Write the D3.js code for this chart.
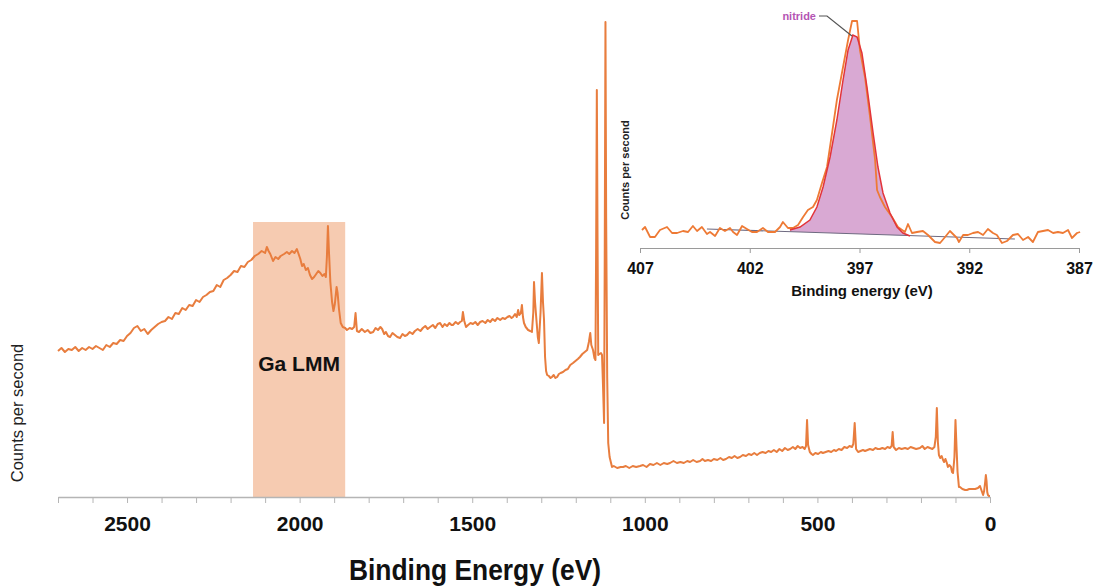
<!DOCTYPE html>
<html>
<head>
<meta charset="utf-8">
<title>XPS survey</title>
<script src="https://d3js.org/d3.v7.min.js"></script>
<style>
  body { margin: 0; background: #fff; }
  text { font-family: "Liberation Sans", Arial, sans-serif; }
</style>
</head>
<body>
<svg width="1095" height="586"></svg>
<script>
// survey spectrum, binding energy (eV) and counts (kcps, arbitrary)
var surveyBE = [
  2700,2690,2680,2670,2660,2650,2640,2630,2620,2610,2600,2590,2580,2570,2560,2550,2540,2530,2520,2510,
  2500,2490,2480,2470,2460,2450,2440,2430,2420,2410,2400,2390,2380,2370,2360,2350,2340,2330,2320,2310,
  2300,2290,2280,2270,2260,2250,2240,2230,2220,2210,2200,2190,2180,2170,2160,2150,2140,
  2130,2120,2110,2100,2095,2090,2085,2077,2070,2062,2055,2045,2037,2030,2022,2015,2008,2003,1998,1993,
  1988,1982,1976,1970,1964,1958,1952,1946,1940,1934,1928,1924,1921,1918,1915,1911,1906,1902,1898,1893,
  1890,1886,1881,1875,1868,
  1863,1855,1848,1842,1838,1834,1828,1820,1811,1803,1795,1787,1780,1773,1766,1761,1755,1750,1744,1738,
  1731,1724,1717,1709,1702,1695,1689,1681,1673,1666,1658,1650,1643,1636,1629,1622,1614,1607,1600,1593,
  1586,1580,1573,1566,1560,1556,1548,1541,1535,1530,1527,1523,1518,1512,1505,1498,1491,1484,1477,1470,
  1462,1455,1448,1441,1434,1427,1419,1412,1405,1398,1392,1386,1382,1376,1371,1367,1364,1359,1356,1353,
  1350,1345,1338,1332,1327,1323,1321,1318,1314,1310,1307,1302,1298,1295,1292,1289,1286,1283,1278,1273,
  1269,1264,1259,1254,1249,1244,1237,1230,1223,1216,1208,1201,1194,1188,1181,1174,1167,1162,1158,1155,
  1150,1146,1143,1141,1139,1137,1135,1131,1127,1124,1121,1118,1116,1114,1112,1109,1106,1102,1095,
  1090,1080,1070,1063,1055,1045,1035,1025,1014,1005,995,985,975,965,955,945,935,927,917,907,
  897,887,877,869,860,850,840,833,826,817,808,800,790,781,773,765,756,748,740,732,
  724,716,707,699,691,683,675,667,659,650,642,634,626,618,610,602,594,586,579,571,
  564,557,550,543,537,533,530,527,522,517,513,506,498,490,484,476,468,460,452,446,
  438,430,422,414,407,400,396,392,388,382,375,368,362,355,348,339,332,325,319,312,
  304,297,290,285,282,279,272,264,256,246,238,230,222,214,203,196,189,181,174,167,
  161,157,154,151,148,144,140,136,133,129,125,122,118,113,110,107,103,100,97,94,
  90,87,80,72,67,60,52,43,35,29,24,20,17,14,12,10,8,6,3,0
];
var surveyCps = [
  14.6,14.9,14.5,14.8,14.7,15.0,14.6,14.9,14.7,15.0,14.8,15.1,14.9,14.7,15.2,15.0,15.4,15.3,15.7,15.6,
  16.1,16.4,16.9,17.1,16.6,16.8,16.3,16.7,17.0,17.3,17.5,17.6,18.0,17.8,18.4,18.3,18.9,18.7,19.2,19.1,
  19.7,19.5,20.0,20.2,20.5,20.6,21.2,21.0,21.7,21.9,22.2,22.6,22.5,23.1,23.0,23.5,23.7,
  24.1,24.3,24.6,24.4,25.0,24.6,24.3,23.6,24.0,23.8,24.1,24.3,24.5,24.3,24.6,24.4,24.8,24.3,23.8,23.1,
  23.3,22.7,22.9,22.2,21.8,22.0,22.3,22.6,22.4,22.1,22.3,22.0,24.0,27.1,24.5,21.5,19.5,18.6,19.3,21.0,
  20.4,18.8,17.4,17.0,16.9,
  16.7,16.9,16.8,17.0,18.4,16.6,16.5,16.8,16.5,16.7,16.4,16.5,16.9,16.7,17.0,16.8,16.3,16.5,16.1,16.0,
  16.4,16.2,16.0,15.9,16.3,16.1,16.2,16.5,16.3,16.6,16.8,16.6,16.9,17.1,16.8,17.0,17.2,16.9,17.3,17.4,
  17.0,17.3,17.1,17.4,17.2,17.2,17.5,17.3,17.5,17.6,18.5,17.6,17.0,17.2,17.4,17.3,17.5,17.2,17.5,17.6,
  17.4,17.7,17.5,17.8,17.6,17.9,17.7,17.9,17.8,18.0,18.1,17.9,18.0,18.3,18.0,18.7,18.2,18.4,19.2,18.0,
  17.4,17.0,16.7,16.6,16.5,18.5,21.5,19.5,17.7,16.0,15.4,18.5,22.4,19.5,17.7,14.0,12.6,12.2,12.1,11.9,
  12.0,12.2,11.9,12.0,12.3,12.4,12.5,12.7,12.8,13.2,13.4,13.6,13.8,14.0,14.3,14.5,14.7,15.5,16.4,15.2,
  14.7,13.9,13.7,25.0,40.7,26.0,14.2,14.3,14.4,14.2,11.0,7.4,25.0,47.5,28.0,12.0,5.4,4.0,3.0,
  3.1,2.9,3.0,3.0,3.1,2.9,3.1,3.0,3.1,3.2,3.0,3.3,3.2,3.4,3.2,3.4,3.3,3.4,3.6,3.4,
  3.5,3.4,3.6,3.5,3.7,3.5,3.6,3.8,3.6,3.7,3.6,3.8,3.7,3.9,3.7,3.8,4.0,3.9,4.1,3.9,
  4.0,4.2,4.1,4.3,4.2,4.4,4.2,4.4,4.5,4.4,4.6,4.5,4.7,4.5,4.8,4.6,4.9,4.7,4.8,5.0,
  4.8,5.1,4.9,5.0,4.8,5.1,7.7,5.2,4.5,4.3,4.2,4.4,4.3,4.5,4.4,4.5,4.6,4.5,4.7,4.6,
  4.8,4.7,5.0,4.9,5.1,5.0,5.3,7.4,4.8,4.5,4.6,4.7,4.6,4.7,4.8,4.7,4.9,4.8,4.8,4.9,
  4.8,5.0,4.9,5.1,6.5,5.0,4.7,4.9,4.8,4.9,4.8,5.0,4.9,4.8,4.9,5.1,4.8,5.0,4.9,4.8,
  5.0,6.0,8.9,5.5,4.2,3.9,4.1,3.7,3.5,3.8,3.4,3.0,3.2,3.0,2.5,2.4,4.0,7.7,5.0,2.5,
  1.0,1.0,0.8,0.7,0.7,0.8,0.8,0.8,0.9,1.1,0.6,0.2,0.6,1.5,2.2,1.6,0.5,0.2,0.1,0.1
];
var surveyTickLabels = [2500, 2000, 1500, 1000, 500, 0];
var gaLmmRange = [2135, 1868];
var gaLmmTop = 27.5;

// N 1s high resolution inset
var insetBE = [
  406.91,406.77,406.54,406.32,406.09,405.77,405.54,405.31,405.04,404.81,404.59,404.40,404.18,403.95,403.81,403.58,403.36,403.13,402.90,402.76,
  402.58,402.35,402.13,401.90,401.67,401.40,401.17,400.85,400.62,400.49,400.26,400.03,399.80,399.57,399.35,399.12,398.94,398.71,398.48,398.25,
  398.03,397.75,397.52,397.34,397.11,396.98,396.75,396.52,396.29,396.20,396.07,395.84,395.52,395.25,394.93,394.79,394.61,394.38,394.11,393.88,
  393.56,393.33,393.10,392.88,392.56,392.47,392.28,392.06,391.83,391.60,391.37,391.15,390.92,390.74,390.51,390.28,390.01,389.78,389.55,389.32,
  389.10,388.87,388.64,388.41,388.18,387.96,387.73,387.50,387.32,387.09,386.95
];
var insetCps = [
  170,200,100,100,170,200,140,140,160,150,210,160,200,130,150,110,190,160,190,150,
  120,210,180,150,150,190,150,150,200,250,190,190,220,300,370,400,470,640,800,1140,
  1470,1800,2070,2260,2260,1970,1700,1300,870,570,500,400,300,200,150,230,140,150,160,120,
  50,40,100,160,90,50,120,120,140,150,120,180,140,120,40,60,120,130,70,100,
  50,150,160,170,140,150,140,170,90,140,150
];
var fitBE = [400.17,399.71,399.26,398.94,398.66,398.34,398.03,397.75,397.52,397.30,397.11,396.89,396.66,396.38,396.16,395.93,395.61,395.29,395.02,394.70];
var fitCps = [170,200,270,400,600,900,1270,1670,1970,2120,2100,1940,1600,1140,800,540,340,200,140,110];
var bgBE = [403.95, 389.92];
var bgCps = [180, 80];
var insetTicks = [407, 402, 397, 392, 387];

var svg = d3.select("svg");
svg.append("rect").attr("width", 1095).attr("height", 586).attr("fill", "#fff");

// ---- main survey ----
var x = d3.scaleLinear().domain([2700, 0]).range([58, 990]);
var y = d3.scaleLinear().domain([0, 47.7]).range([497, 20]);

svg.append("rect")
    .attr("x", x(gaLmmRange[0]))
    .attr("y", y(gaLmmTop))
    .attr("width", x(gaLmmRange[1]) - x(gaLmmRange[0]))
    .attr("height", y(0) - y(gaLmmTop))
    .attr("fill", "#f6cbb1");

svg.append("text")
    .attr("x", (x(gaLmmRange[0]) + x(gaLmmRange[1])) / 2)
    .attr("y", 371)
    .attr("text-anchor", "middle")
    .style("font-size", "21px").style("font-weight", "bold")
    .attr("fill", "#111")
    .text("Ga LMM");

var xAxis = d3.axisBottom(x)
    .tickValues(d3.range(0, 2701, 100))
    .tickSize(6).tickSizeOuter(0)
    .tickFormat(function(d) { return surveyTickLabels.indexOf(d) >= 0 ? d : ""; });

var gx = svg.append("g").attr("transform", "translate(0," + y(0) + ")").call(xAxis);
gx.select(".domain").attr("stroke", "#b5b5b5").attr("stroke-width", 1.3);
gx.selectAll(".tick line").attr("stroke", "#b5b5b5");
gx.selectAll(".tick text")
    .attr("dy", "1.2em")
    .style("font-family", "'Liberation Sans', Arial, sans-serif")
    .style("font-size", "21px").style("font-weight", "bold")
    .attr("fill", "#111");

var surveyData = surveyBE.map(function(d, i) { return [d, surveyCps[i]]; });
var line = d3.line().x(function(d) { return x(d[0]); }).y(function(d) { return y(d[1]); });

svg.append("path")
    .datum(surveyData)
    .attr("d", line)
    .attr("fill", "none")
    .attr("stroke", "#e87d3e")
    .attr("stroke-width", 2)
    .attr("stroke-linejoin", "round");

svg.append("text")
    .attr("x", 475).attr("y", 580)
    .attr("text-anchor", "middle")
    .attr("textLength", 252)
    .attr("lengthAdjust", "spacingAndGlyphs")
    .style("font-size", "30px").style("font-weight", "bold")
    .attr("fill", "#111")
    .text("Binding Energy (eV)");

svg.append("text")
    .attr("transform", "translate(23,413) rotate(-90)")
    .attr("text-anchor", "middle")
    .style("font-size", "16.5px")
    .attr("fill", "#222")
    .text("Counts per second");

// ---- inset ----
var ix = d3.scaleLinear().domain([407, 387]).range([640, 1079]);
var iy = d3.scaleLinear().domain([0, 2270]).range([247, 20]);
var bg = d3.scaleLinear().domain(bgBE).range(bgCps);

var fitData = fitBE.map(function(d, i) { return [d, fitCps[i]]; });
var insetData = insetBE.map(function(d, i) { return [d, insetCps[i]]; });

svg.append("path")
    .datum(fitData)
    .attr("d", d3.area()
        .x(function(d) { return ix(d[0]); })
        .y0(function(d) { return iy(bg(d[0])); })
        .y1(function(d) { return iy(Math.max(d[1], bg(d[0]))); }))
    .attr("fill", "#d9a9d3");

svg.append("line")
    .attr("x1", ix(bgBE[0])).attr("y1", iy(bgCps[0]))
    .attr("x2", ix(bgBE[1])).attr("y2", iy(bgCps[1]))
    .attr("stroke", "#6e6a80").attr("stroke-width", 1.1);

var iline = d3.line().x(function(d) { return ix(d[0]); }).y(function(d) { return iy(d[1]); });

svg.append("path")
    .datum(insetData)
    .attr("d", iline)
    .attr("fill", "none")
    .attr("stroke", "#ee7a35")
    .attr("stroke-width", 1.8)
    .attr("stroke-linejoin", "round");

svg.append("path")
    .datum(fitData)
    .attr("d", iline)
    .attr("fill", "none")
    .attr("stroke", "#e3343a")
    .attr("stroke-width", 1.5);

var ixAxis = d3.axisBottom(ix).tickValues(insetTicks).tickSize(5).tickSizeOuter(0).tickFormat(d3.format("d"));
var gix = svg.append("g").attr("transform", "translate(0,248)").call(ixAxis);
gix.select(".domain").attr("stroke", "#9a9a9a").attr("stroke-width", 1.2);
gix.selectAll(".tick line").attr("stroke", "#9a9a9a");
gix.selectAll(".tick text")
    .attr("dy", "1.1em")
    .style("font-family", "'Liberation Sans', Arial, sans-serif")
    .style("font-size", "16px").style("font-weight", "bold")
    .attr("fill", "#111");

svg.append("text")
    .attr("x", 862).attr("y", 296)
    .attr("text-anchor", "middle")
    .style("font-size", "15px").style("font-weight", "bold")
    .attr("fill", "#111")
    .text("Binding energy (eV)");

svg.append("text")
    .attr("transform", "translate(629,170) rotate(-90)")
    .attr("text-anchor", "middle")
    .style("font-size", "11px").style("font-weight", "bold")
    .attr("fill", "#222")
    .text("Counts per second");

// nitride label with leader
var peak = fitData[9];
svg.append("polyline")
    .attr("points", [[819, 16], [827, 16], [ix(peak[0]) - 1, iy(peak[1]) + 1]].join(" "))
    .attr("fill", "none")
    .attr("stroke", "#555")
    .attr("stroke-width", 1.2);

svg.append("text")
    .attr("x", 816).attr("y", 20)
    .attr("text-anchor", "end")
    .style("font-size", "11px").style("font-weight", "bold")
    .attr("fill", "#b455b4")
    .text("nitride");
</script>
</body>
</html>
